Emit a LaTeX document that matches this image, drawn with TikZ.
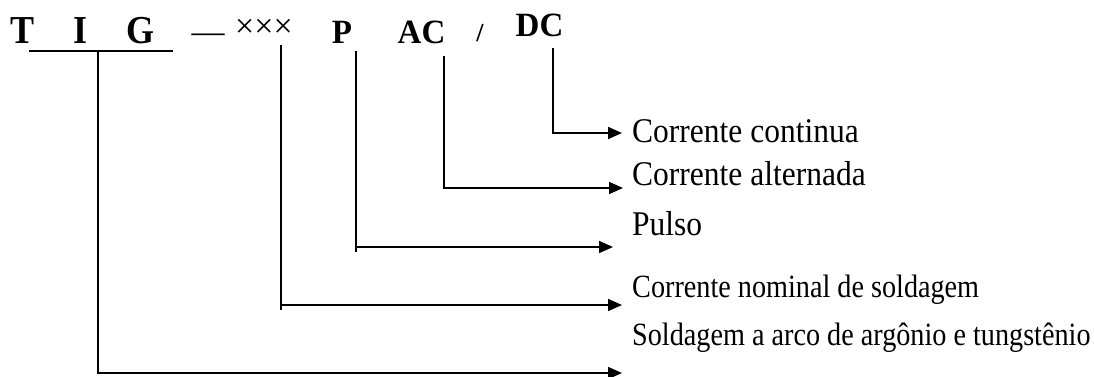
\documentclass[tikz,border=0pt]{standalone}
\usepackage{fontspec}
\setmainfont{Liberation Serif}
\usetikzlibrary{arrows.meta}

\tikzset{
  txt/.style={inner sep=0pt, anchor=base west, font=\fontsize{31.5}{36}\selectfont},
  txtsm/.style={inner sep=0pt, anchor=base west, font=\fontsize{28.2}{32}\selectfont},
  code/.style={inner sep=0pt, anchor=base, font=\bfseries\fontsize{33}{38}\selectfont},
  bigcode/.style={inner sep=0pt, anchor=base, font=\bfseries\fontsize{36}{42}\selectfont},
  leg/.style={line width=1.7pt},
  conn/.style={line width=1.7pt, -{Triangle[length=14pt,width=12pt]}}
}

\begin{document}
\begin{tikzpicture}[x=1pt,y=-1pt]
\useasboundingbox (0,0) rectangle (1094,376);

% model code
\node[bigcode] (T) at (22.5,43) {\scalebox{1}[1.1]{T}};
\node[bigcode] (I) at (80.5,43) {\scalebox{1}[1.1]{I}};
\node[bigcode] (G) at (140.5,43) {\scalebox{1}[1.1]{G}};
\node[inner sep=0pt, anchor=base, font=\fontsize{33}{36}\selectfont] (dash) at (208,42) {—};
\node[inner sep=0pt, anchor=base, font=\fontsize{34}{36}\selectfont] (xxx) at (264,37) {×××};
\node[code] (P) at (342,43) {\scalebox{1}[1.03]{P}};
\node[code] (AC) at (421.5,43) {\scalebox{1}[1.03]{AC}};
\node[inner sep=0pt, anchor=base, font=\bfseries\fontsize{26}{30}\selectfont] (slash) at (480,41) {/};
\node[code] (DC) at (539.5,36) {\scalebox{1}[1.03]{DC}};

% descriptions
\node[txt] (dDC) at (632,142) {\scalebox{1}[1.1]{Corrente continua}};
\node[txt] (dAC) at (632,185) {\scalebox{1}[1.1]{Corrente alternada}};
\node[txt] (dP) at (632,235) {\scalebox{1}[1.1]{Pulso}};
\node[txtsm] (dX) at (632,297) {\scalebox{1}[1.15]{Corrente nominal de soldagem}};
\node[txtsm] (dTIG) at (632,345) {\scalebox{1}[1.15]{Soldagem a arco de argônio e tungstênio}};

% underline of TIG
\coordinate (ulL) at (29,51);
\coordinate (ulR) at (173,51);
\draw[leg] (ulL) -- (ulR);

% leader start points
\coordinate (sTIG) at (98,52);
\coordinate (sX) at (281,45);
\coordinate (sP) at (356,51);
\coordinate (sAC) at (444,56);
\coordinate (sDC) at (553,48);

% arrow end points
\coordinate (eDC) at (622,133);
\coordinate (eAC) at (623,188);
\coordinate (eP) at (613,247);
\coordinate (eX) at (622,305);
\coordinate (eTIG) at (622,373);

\draw[conn] (sDC) |- (eDC);
\draw[conn] (sAC) |- (eAC);
\draw[conn] (sP) |- (eP);
\draw[conn] (sX) |- (eX);
\draw[conn] (sTIG) |- (eTIG);

% short overshoot of the leaders below their bends
\draw[leg] (sP |- eP) -- ++(0,5);
\draw[leg] (sX |- eX) -- ++(0,5);
\end{tikzpicture}
\end{document}
